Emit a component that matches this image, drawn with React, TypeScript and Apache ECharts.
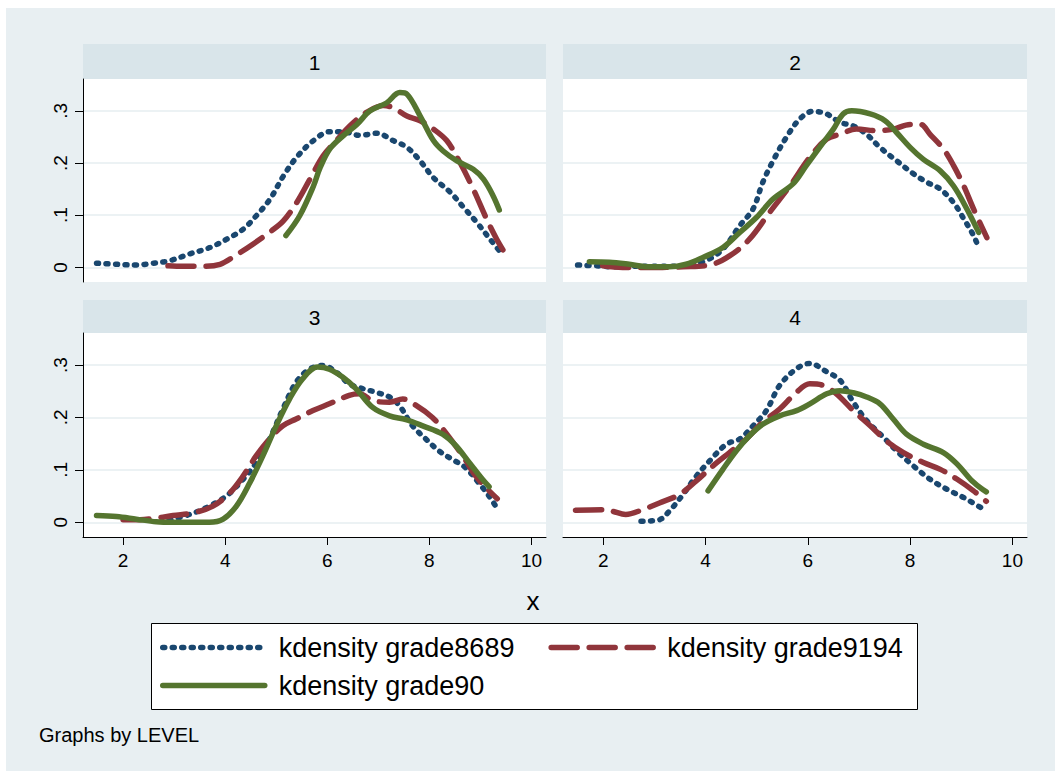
import React, { useEffect, useRef } from "react";
import * as echarts from "echarts";

// ---- Data ----
const panelTitles = ["1", "2", "3", "4"];
const seriesNames = ["kdensity grade8689", "kdensity grade9194", "kdensity grade90"];
const xTickValues = [2, 4, 6, 8, 10];
const yTickValues = [0, 0.1, 0.2, 0.3];
const yTickLabels = ["0", ".1", ".2", ".3"];

// Panel 1
const p1Grade8689: [number, number][] = [
  [1.48, 0.008], [1.87, 0.006], [2.26, 0.0045], [2.59, 0.008], [2.92, 0.013], [3.31, 0.026],
  [3.7, 0.038], [4.03, 0.054], [4.35, 0.073], [4.61, 0.099], [4.88, 0.131], [5.14, 0.175],
  [5.4, 0.211], [5.73, 0.243], [6.05, 0.26], [6.31, 0.26], [6.64, 0.253], [6.97, 0.257],
  [7.29, 0.243], [7.56, 0.23], [7.82, 0.204], [8.08, 0.172], [8.41, 0.144], [8.67, 0.115],
  [8.93, 0.086], [9.19, 0.054], [9.42, 0.026],
];
const p1Grade9194: [number, number][] = [
  [2.88, 0.003], [3.18, 0.002], [3.5, 0.002], [3.9, 0.006], [4.22, 0.024], [4.55, 0.045],
  [4.88, 0.068], [5.14, 0.089], [5.4, 0.124], [5.66, 0.169], [5.92, 0.214], [6.18, 0.243],
  [6.44, 0.271], [6.77, 0.297], [7.1, 0.31], [7.29, 0.306], [7.56, 0.29], [7.82, 0.281],
  [8.08, 0.265], [8.34, 0.243], [8.6, 0.201], [8.86, 0.15], [9.12, 0.093], [9.32, 0.054],
  [9.5, 0.024],
];
const p1Grade90: [number, number][] = [
  [5.19, 0.061], [5.46, 0.099], [5.73, 0.156], [5.86, 0.191], [6.05, 0.227], [6.31, 0.252],
  [6.58, 0.274], [6.84, 0.3], [7.16, 0.315], [7.42, 0.335], [7.56, 0.332], [7.82, 0.29],
  [8.08, 0.243], [8.27, 0.223], [8.54, 0.204], [8.86, 0.188], [9.06, 0.169], [9.25, 0.137],
  [9.37, 0.11],
];

// Panel 2
const p2Grade8689: [number, number][] = [
  [1.5, 0.0045], [1.86, 0.003], [2.18, 0.001], [2.51, 0.002], [2.9, 0.002], [3.29, 0.002],
  [3.69, 0.0045], [4.01, 0.013], [4.34, 0.035], [4.67, 0.08], [4.93, 0.112], [5.12, 0.163],
  [5.32, 0.204], [5.58, 0.249], [5.84, 0.284], [6.1, 0.299], [6.37, 0.294], [6.63, 0.278],
  [6.89, 0.271], [7.15, 0.255], [7.41, 0.23], [7.74, 0.204], [8.07, 0.179], [8.33, 0.163],
  [8.59, 0.15], [8.85, 0.124], [9.05, 0.093], [9.24, 0.061], [9.34, 0.038],
];
const p2Grade9194: [number, number][] = [
  [1.99, 0.003], [2.38, 0.0], [2.77, 0.0], [3.16, 0.0], [3.56, 0.001], [4.08, 0.0045],
  [4.47, 0.022], [4.86, 0.054], [5.25, 0.105], [5.65, 0.156], [6.04, 0.211], [6.37, 0.246],
  [6.63, 0.255], [6.95, 0.265], [7.35, 0.262], [7.67, 0.265], [8.0, 0.274], [8.2, 0.274],
  [8.39, 0.255], [8.65, 0.227], [8.85, 0.195], [9.05, 0.156], [9.24, 0.112], [9.5, 0.057],
];
const p2Grade90: [number, number][] = [
  [1.73, 0.011], [2.12, 0.01], [2.51, 0.006], [2.9, 0.001], [3.29, 0.001], [3.62, 0.006],
  [3.95, 0.019], [4.34, 0.038], [4.67, 0.067], [5.0, 0.096], [5.32, 0.131], [5.71, 0.16],
  [5.97, 0.195], [6.3, 0.239], [6.5, 0.265], [6.69, 0.294], [6.86, 0.3], [7.22, 0.294],
  [7.51, 0.281], [7.74, 0.258], [8.0, 0.23], [8.26, 0.207], [8.59, 0.185], [8.85, 0.156],
  [9.11, 0.112], [9.34, 0.067],
];

// Panel 3
const p3Grade8689: [number, number][] = [
  [2.9, 0.004], [3.3, 0.015], [3.63, 0.028], [4.02, 0.05], [4.35, 0.082], [4.61, 0.114],
  [4.87, 0.159], [5.13, 0.216], [5.39, 0.267], [5.65, 0.292], [5.91, 0.299], [6.17, 0.287],
  [6.43, 0.264], [6.69, 0.255], [6.95, 0.248], [7.22, 0.239], [7.41, 0.223], [7.67, 0.184],
  [7.93, 0.159], [8.19, 0.136], [8.45, 0.12], [8.71, 0.104], [8.97, 0.075], [9.17, 0.05],
  [9.33, 0.026],
];
const p3Grade9194: [number, number][] = [
  [2.0, 0.005], [2.33, 0.005], [2.65, 0.008], [2.98, 0.013], [3.37, 0.018], [3.76, 0.031],
  [4.09, 0.056], [4.35, 0.088], [4.61, 0.127], [4.87, 0.159], [5.13, 0.184], [5.39, 0.197],
  [5.72, 0.213], [6.04, 0.226], [6.43, 0.242], [6.63, 0.245], [6.89, 0.232], [7.22, 0.229],
  [7.48, 0.235], [7.74, 0.223], [8.06, 0.2], [8.32, 0.171], [8.65, 0.127], [8.91, 0.088],
  [9.11, 0.066], [9.33, 0.045],
];
const p3Grade90: [number, number][] = [
  [1.48, 0.013], [1.87, 0.011], [2.26, 0.006], [2.65, 0.001], [2.98, 0.0], [3.37, 0.0],
  [3.69, 0.0], [3.96, 0.006], [4.22, 0.031], [4.48, 0.075], [4.74, 0.127], [5.0, 0.184],
  [5.26, 0.235], [5.52, 0.274], [5.81, 0.296], [6.04, 0.292], [6.3, 0.277], [6.56, 0.255],
  [6.89, 0.219], [7.22, 0.203], [7.54, 0.196], [7.87, 0.184], [8.26, 0.168], [8.52, 0.146],
  [8.78, 0.114], [9.04, 0.082], [9.17, 0.068],
];

// Panel 4
const p4Grade8689: [number, number][] = [
  [2.74, 0.002], [3.1, 0.005], [3.29, 0.021], [3.56, 0.053], [3.82, 0.088], [4.08, 0.117],
  [4.41, 0.149], [4.67, 0.159], [4.93, 0.184], [5.19, 0.213], [5.45, 0.261], [5.78, 0.293],
  [6.04, 0.303], [6.37, 0.287], [6.63, 0.271], [6.89, 0.229], [7.15, 0.194], [7.48, 0.162],
  [7.74, 0.136], [8.07, 0.107], [8.39, 0.082], [8.72, 0.063], [9.05, 0.047], [9.47, 0.023],
];
const p4Grade9194: [number, number][] = [
  [1.46, 0.023], [1.99, 0.024], [2.18, 0.021], [2.44, 0.015], [2.77, 0.024], [3.1, 0.037],
  [3.49, 0.053], [3.82, 0.079], [4.14, 0.107], [4.47, 0.133], [4.8, 0.159], [5.12, 0.191],
  [5.45, 0.216], [5.78, 0.248], [6.04, 0.264], [6.3, 0.261], [6.56, 0.245], [6.89, 0.213],
  [7.22, 0.184], [7.54, 0.155], [7.87, 0.133], [8.26, 0.114], [8.59, 0.101], [8.92, 0.082],
  [9.24, 0.06], [9.49, 0.04],
];
const p4Grade90: [number, number][] = [
  [4.05, 0.06], [4.34, 0.101], [4.6, 0.136], [4.86, 0.165], [5.12, 0.187], [5.45, 0.203],
  [5.78, 0.213], [6.04, 0.226], [6.37, 0.245], [6.63, 0.251], [6.89, 0.247], [7.15, 0.239],
  [7.41, 0.226], [7.67, 0.197], [7.93, 0.168], [8.26, 0.149], [8.65, 0.133], [8.92, 0.111],
  [9.18, 0.082], [9.37, 0.066], [9.49, 0.058],
];

const panelData = [
  [p1Grade8689, p1Grade9194, p1Grade90],
  [p2Grade8689, p2Grade9194, p2Grade90],
  [p3Grade8689, p3Grade9194, p3Grade90],
  [p4Grade8689, p4Grade9194, p4Grade90],
];

// ---- Styles / layout ----
const FONT = "'Liberation Sans', Arial, Helvetica, sans-serif";
const BG = "#e8eff2";
const STRIP = "#d9e5ea";
const GRID_LINE = "#e6eef1";
const colors = ["#1a476f", "#90353b", "#55752f"];
const lineStyles: any[] = [
  { color: colors[0], width: 5.5, type: [2, 7.5], cap: "round", join: "round" },
  { color: colors[1], width: 5.5, type: [26, 12], cap: "round", join: "round" },
  { color: colors[2], width: 5.5, type: "solid", cap: "round", join: "round" },
];

const grids = [
  { left: 83, top: 79, width: 463, height: 203 },
  { left: 563, top: 79, width: 464, height: 203 },
  { left: 83, top: 333, width: 463, height: 204 },
  { left: 563, top: 333, width: 464, height: 204 },
];
const strips = [
  { x: 83, y: 44, w: 463, h: 35 },
  { x: 563, y: 44, w: 464, h: 35 },
  { x: 83, y: 300, w: 463, h: 33 },
  { x: 563, y: 300, w: 464, h: 33 },
];

export default function App() {
  const ref = useRef<HTMLDivElement>(null);

  useEffect(() => {
    if (!ref.current) return;
    const chart = echarts.init(ref.current, null, { renderer: "svg" });

    const xAxes = grids.map((_, i) => {
      const hasAxis = i >= 2;
      return {
        type: "value",
        gridIndex: i,
        min: 1.215,
        max: 10.285,
        show: hasAxis,
        axisLine: { show: hasAxis, onZero: false, lineStyle: { color: "#000", width: 1 } },
        axisTick: { show: hasAxis, length: 8, customValues: xTickValues, lineStyle: { color: "#000", width: 1 } },
        axisLabel: {
          show: hasAxis,
          customValues: xTickValues,
          margin: 14,
          fontSize: 19,
          color: "#000",
          fontFamily: FONT,
        },
        splitLine: { show: false },
      };
    });

    const yAxes = grids.map((_, i) => {
      const hasAxis = i % 2 === 0;
      return {
        type: "value",
        gridIndex: i,
        min: -0.028,
        max: 0.361,
        axisLine: { show: hasAxis, onZero: false, lineStyle: { color: "#000", width: 1 } },
        axisTick: { show: hasAxis, length: 8, customValues: yTickValues, lineStyle: { color: "#000", width: 1 } },
        axisLabel: {
          show: hasAxis,
          customValues: yTickValues,
          rotate: 90,
          margin: 13,
          fontSize: 19,
          color: "#000",
          fontFamily: FONT,
          formatter: (v: number) => {
            let best = 0;
            yTickValues.forEach((t, k) => {
              if (Math.abs(t - v) < Math.abs(yTickValues[best] - v)) best = k;
            });
            return yTickLabels[best];
          },
        },
        splitLine: { show: true, lineStyle: { color: GRID_LINE, width: 1.5 } },
      };
    });

    const series: any[] = [];
    panelData.forEach((curves, p) => {
      curves.forEach((pts, s) => {
        series.push({
          type: "line",
          name: seriesNames[s],
          xAxisIndex: p,
          yAxisIndex: p,
          data: pts,
          smooth: 0.35,
          symbol: "none",
          showSymbol: false,
          lineStyle: lineStyles[s],
          itemStyle: { color: colors[s] },
          z: 3 + s,
        });
      });
    });

    const legendCommon = {
      orient: "horizontal",
      itemWidth: 102,
      itemHeight: 8,
      itemGap: 34,
      padding: 0,
      selectedMode: false,
      itemStyle: { opacity: 0 },
      lineStyle: { width: "inherit", type: "inherit", cap: "inherit", join: "inherit" },
      textStyle: { fontSize: 27, color: "#000", fontFamily: FONT, padding: [0, 0, 0, 9] },
    };

    const graphic: any[] = [
      { type: "rect", shape: { x: 0, y: 0, width: 1055, height: 8 }, style: { fill: "#fff" }, z: -1, silent: true },
      { type: "rect", shape: { x: 0, y: 0, width: 6, height: 771 }, style: { fill: "#fff" }, z: -1, silent: true },
      {
        type: "rect",
        shape: { x: 151.5, y: 623.5, width: 766, height: 86 },
        style: { fill: "#fff", stroke: "#000", lineWidth: 1 },
        z: 0,
        silent: true,
      },
    ];
    strips.forEach((s, i) => {
      graphic.push({
        type: "rect",
        shape: { x: s.x, y: s.y, width: s.w, height: s.h },
        style: { fill: STRIP },
        silent: true,
      });
      graphic.push({
        type: "text",
        x: s.x + s.w / 2,
        y: s.y + s.h / 2 + 1,
        style: {
          text: panelTitles[i],
          fontSize: 21,
          fontFamily: FONT,
          fill: "#000",
          align: "center",
          verticalAlign: "middle",
        },
        silent: true,
      });
    });
    graphic.push({
      type: "text",
      x: 533,
      y: 601,
      style: { text: "x", fontSize: 26, fontFamily: FONT, fill: "#000", align: "center", verticalAlign: "middle" },
      silent: true,
    });
    graphic.push({
      type: "text",
      x: 39,
      y: 735,
      style: { text: "Graphs by LEVEL", fontSize: 20, fontFamily: FONT, fill: "#000", align: "left", verticalAlign: "middle" },
      silent: true,
    });

    chart.setOption({
      animation: false,
      backgroundColor: BG,
      grid: grids.map((g) => ({ ...g, show: true, backgroundColor: "#fff", borderWidth: 0, containLabel: false })),
      xAxis: xAxes,
      yAxis: yAxes,
      legend: [
        { ...legendCommon, left: 160, top: 634, data: [seriesNames[0], seriesNames[1]] },
        { ...legendCommon, left: 160, top: 672, data: [seriesNames[2]] },
      ],
      graphic,
      series,
    });

    return () => chart.dispose();
  }, []);

  return (
    <div
      ref={ref}
      style={{ position: "fixed", left: 0, top: 0, width: 1055, height: 771 }}
    />
  );
}
